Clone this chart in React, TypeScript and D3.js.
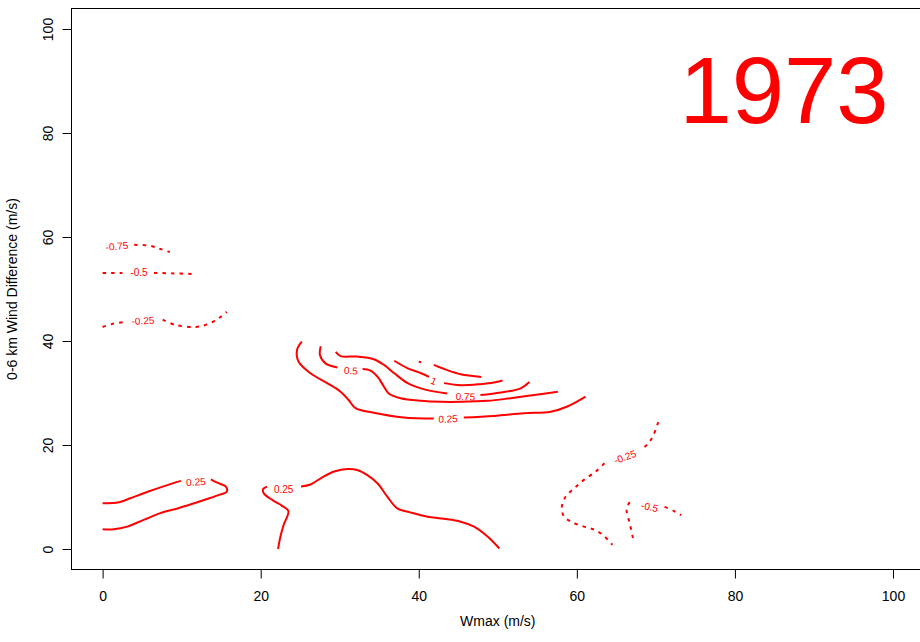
import React, { useEffect, useRef } from 'react';
import * as d3 from 'd3';

type Pt = [number, number];

const xTicks = [0, 20, 40, 60, 80, 100];
const yTicks = [0, 20, 40, 60, 80, 100];
const yearLabel = '1973';
const xTitle = 'Wmax (m/s)';
const yTitle = '0-6 km Wind Difference (m/s)';

// contour lines, in (Wmax, wind difference) units
const negTopLeft75: Pt[] = [[1.8, 58.2], [4, 58.5], [6, 58.3], [7.3, 57.7], [8.5, 57.1]];
const negTopLeft50: Pt[] = [[0, 53.1], [2.5, 53.1], [4.6, 53.1], [6.5, 53.1], [9, 53.0], [11.4, 52.9]];
const negLeft25: Pt[] = [
  [0, 42.7], [1.3, 43.3], [2.9, 43.7], [5.1, 43.9], [7.6, 44.1], [9.2, 43.1],
  [11.8, 42.7], [13.4, 43.3], [14.7, 44.4], [15.7, 45.6],
];
const negRight25: Pt[] = [
  [70.3, 24.4], [69.6, 21.6], [68.9, 20.1], [68.1, 19.0], [66.1, 17.7], [63.5, 16.5],
  [62.4, 14.9], [60.9, 13.3], [59.7, 11.7], [58.6, 10.1], [58.1, 8.1], [58.4, 6.2],
  [59.5, 5.1], [60.9, 4.3], [62.2, 3.7], [63.3, 2.7], [64.5, 0.8],
];
const negRight50: Pt[] = [
  [67.1, 2.1], [66.7, 4.9], [66.3, 7.5], [66.6, 8.8], [67.3, 9.4], [69.2, 8.1],
  [71.1, 8.1], [72.3, 7.3], [73.2, 6.5],
];
const posLowLeft25: Pt[] = [
  [0, 8.8], [2.1, 9.0], [3.5, 9.75], [5.7, 11.0], [7.8, 12.1], [9.9, 13.1], [11.8, 12.9],
  [13.7, 13.4], [14.5, 12.75], [15.6, 12.0], [15.7, 11.0], [14.9, 10.5], [13.5, 9.75],
  [11.6, 8.8], [9.5, 7.8], [7.3, 6.9], [5.2, 5.6], [3.1, 4.3], [1.4, 3.8], [0, 3.8],
];
const posLowMid25: Pt[] = [
  [22.2, 0], [22.5, 2.4], [22.9, 4.6], [23.5, 7.3], [22.7, 8.3], [21.5, 9.4], [20.4, 10.7],
  [20.3, 11.5], [20.8, 12.0], [22.9, 11.5], [25.1, 12.0], [26.3, 12.4], [27.6, 13.6],
  [29.3, 14.9], [31.0, 15.4], [32.2, 15.2], [33.5, 14.2], [34.8, 12.6], [36.0, 10.1],
  [37.3, 7.8], [39.0, 7.0], [41.1, 6.2], [43.2, 5.8], [45.3, 5.25], [47.0, 4.3],
  [48.7, 2.4], [50.2, 0.1],
];
const posUpper25: Pt[] = [
  [25.2, 39.9], [24.6, 38.3], [24.8, 36.0], [26.3, 33.8], [28.4, 31.9], [30.1, 30.25],
  [31.1, 28.7], [32.0, 27.1], [34.3, 26.2], [38.1, 25.3], [41.9, 25.1], [43.7, 25.0],
  [45.7, 25.3], [49.5, 25.6], [53.3, 26.1], [56.7, 26.4], [58.8, 27.4], [61.1, 29.3],
];
const posUpper50: Pt[] = [
  [27.6, 39.0], [27.5, 37.3], [28.2, 35.7], [29.7, 34.9], [31.4, 34.3], [32.9, 34.6],
  [33.9, 34.3], [34.8, 33.1], [35.6, 31.2], [36.2, 29.9], [37.7, 29.0], [40.3, 28.5],
  [42.8, 28.3], [45.3, 28.3], [48.7, 28.5], [51.6, 29.0], [54.6, 29.6], [57.6, 30.25],
];
const posUpper75: Pt[] = [
  [29.5, 37.9], [30.1, 37.1], [32.2, 37.0], [34.3, 36.5], [35.6, 35.4], [36.9, 33.8],
  [38.6, 31.9], [40.7, 30.7], [43.6, 29.9], [45.9, 29.3], [47.8, 29.6], [50.4, 30.1],
  [52.9, 30.9], [54.0, 32.1],
];
const posUpper100: Pt[] = [
  [36.9, 36.2], [38.6, 34.75], [40.3, 33.8], [41.3, 33.1], [41.9, 32.3], [43.2, 31.9],
  [45.3, 31.5], [47.8, 31.7], [49.5, 32.0], [50.6, 32.4],
];
const posUpper125: Pt[] = [[41.9, 35.4], [43.6, 34.4], [45.3, 33.6], [46.6, 33.3], [47.9, 33.1]];
const posUpper125Dot: Pt[] = [[40.0, 36.0], [40.3, 35.9]];

// at = index of the point where the level label sits (-1: no label)
const contourSet = [
  { level: -0.75, pts: negTopLeft75, at: 0 },
  { level: -0.5, pts: negTopLeft50, at: 2 },
  { level: -0.25, pts: negLeft25, at: 3 },
  { level: -0.25, pts: negRight25, at: 4 },
  { level: -0.5, pts: negRight50, at: 5 },
  { level: 0.25, pts: posLowLeft25, at: 6 },
  { level: 0.25, pts: posLowMid25, at: 9 },
  { level: 0.25, pts: posUpper25, at: 11 },
  { level: 0.5, pts: posUpper50, at: 4 },
  { level: 0.75, pts: posUpper75, at: 9 },
  { level: 1, pts: posUpper100, at: 4 },
  { level: 1.25, pts: posUpper125, at: -1 },
  { level: 1.25, pts: posUpper125Dot, at: -1 },
];

const FONT = '"Liberation Sans", Arial, Helvetica, sans-serif';

const App: React.FC = () => {
  const ref = useRef<SVGSVGElement>(null);

  useEffect(() => {
    const svg = d3.select(ref.current);
    svg.selectAll('*').remove();

    const x = d3.scaleLinear().domain([-4, 104]).range([71, 924.6]);
    const y = d3.scaleLinear().domain([-4, 104]).range([569.8, 8.2]);

    const line = d3.line<Pt>()
      .x(d => x(d[0]))
      .y(d => y(d[1]))
      .curve(d3.curveCatmullRom.alpha(0.5));

    const plot = svg.append('g');

    contourSet.forEach(c => {
      const segs: Pt[][] = c.at < 0 ? [c.pts] : [c.pts.slice(0, c.at), c.pts.slice(c.at + 1)];
      segs.filter(s => s.length >= 2).forEach(s => {
        plot.append('path')
          .attr('d', line(s))
          .attr('fill', 'none')
          .attr('stroke', '#ff0000')
          .attr('stroke-width', 2)
          .attr('stroke-dasharray', c.level < 0 ? '3.5,5' : null);
      });
      if (c.at >= 0) {
        const p = c.pts[c.at];
        const a = c.pts[Math.max(0, c.at - 1)];
        const b = c.pts[Math.min(c.pts.length - 1, c.at + 1)];
        let ang = Math.atan2(y(b[1]) - y(a[1]), x(b[0]) - x(a[0])) * 180 / Math.PI;
        if (ang > 90) ang -= 180;
        if (ang < -90) ang += 180;
        plot.append('text')
          .attr('transform', `translate(${x(p[0])},${y(p[1])}) rotate(${ang})`)
          .attr('dy', '0.35em')
          .attr('text-anchor', 'middle')
          .attr('font-family', FONT)
          .attr('font-size', 10)
          .attr('fill', '#ff0000')
          .text(String(c.level));
      }
    });

    // frame (right edge falls outside the window)
    svg.append('rect')
      .attr('x', 71.5)
      .attr('y', 8.5)
      .attr('width', 853)
      .attr('height', 561)
      .attr('fill', 'none')
      .attr('stroke', '#000')
      .attr('stroke-width', 1);

    const xAxis = svg.append('g')
      .attr('transform', 'translate(0,569.5)')
      .call(d3.axisBottom(x).tickValues(xTicks).tickSize(9).tickPadding(13).tickSizeOuter(0));
    xAxis.select('.domain').remove();
    xAxis.selectAll('text').attr('font-size', 14).attr('font-family', FONT).attr('fill', '#000');

    const yAxis = svg.append('g')
      .attr('transform', 'translate(71.5,0)')
      .call(d3.axisLeft(y).tickValues(yTicks).tickSize(9).tickSizeOuter(0));
    yAxis.select('.domain').remove();
    yAxis.selectAll('text')
      .attr('x', null)
      .attr('dy', null)
      .attr('text-anchor', 'middle')
      .attr('transform', 'translate(-18.5,0) rotate(-90)')
      .attr('font-size', 14)
      .attr('font-family', FONT)
      .attr('fill', '#000');

    svg.append('text')
      .attr('x', (x.range()[0] + x.range()[1]) / 2)
      .attr('y', 626)
      .attr('text-anchor', 'middle')
      .attr('font-family', FONT)
      .attr('font-size', 14)
      .text(xTitle);

    svg.append('text')
      .attr('transform', `translate(17,${(y.range()[0] + y.range()[1]) / 2}) rotate(-90)`)
      .attr('text-anchor', 'middle')
      .attr('font-family', FONT)
      .attr('font-size', 14)
      .text(yTitle);

    svg.append('text')
      .attr('x', 784)
      .attr('y', 123)
      .attr('text-anchor', 'middle')
      .attr('font-family', FONT)
      .attr('font-size', 94)
      .attr('fill', '#ff0000')
      .text(yearLabel);
  }, []);

  return (
    <svg
      ref={ref}
      width={920}
      height={642}
      style={{ position: 'fixed', left: 0, top: 0, background: '#fff' }}
    />
  );
};

export default App;
